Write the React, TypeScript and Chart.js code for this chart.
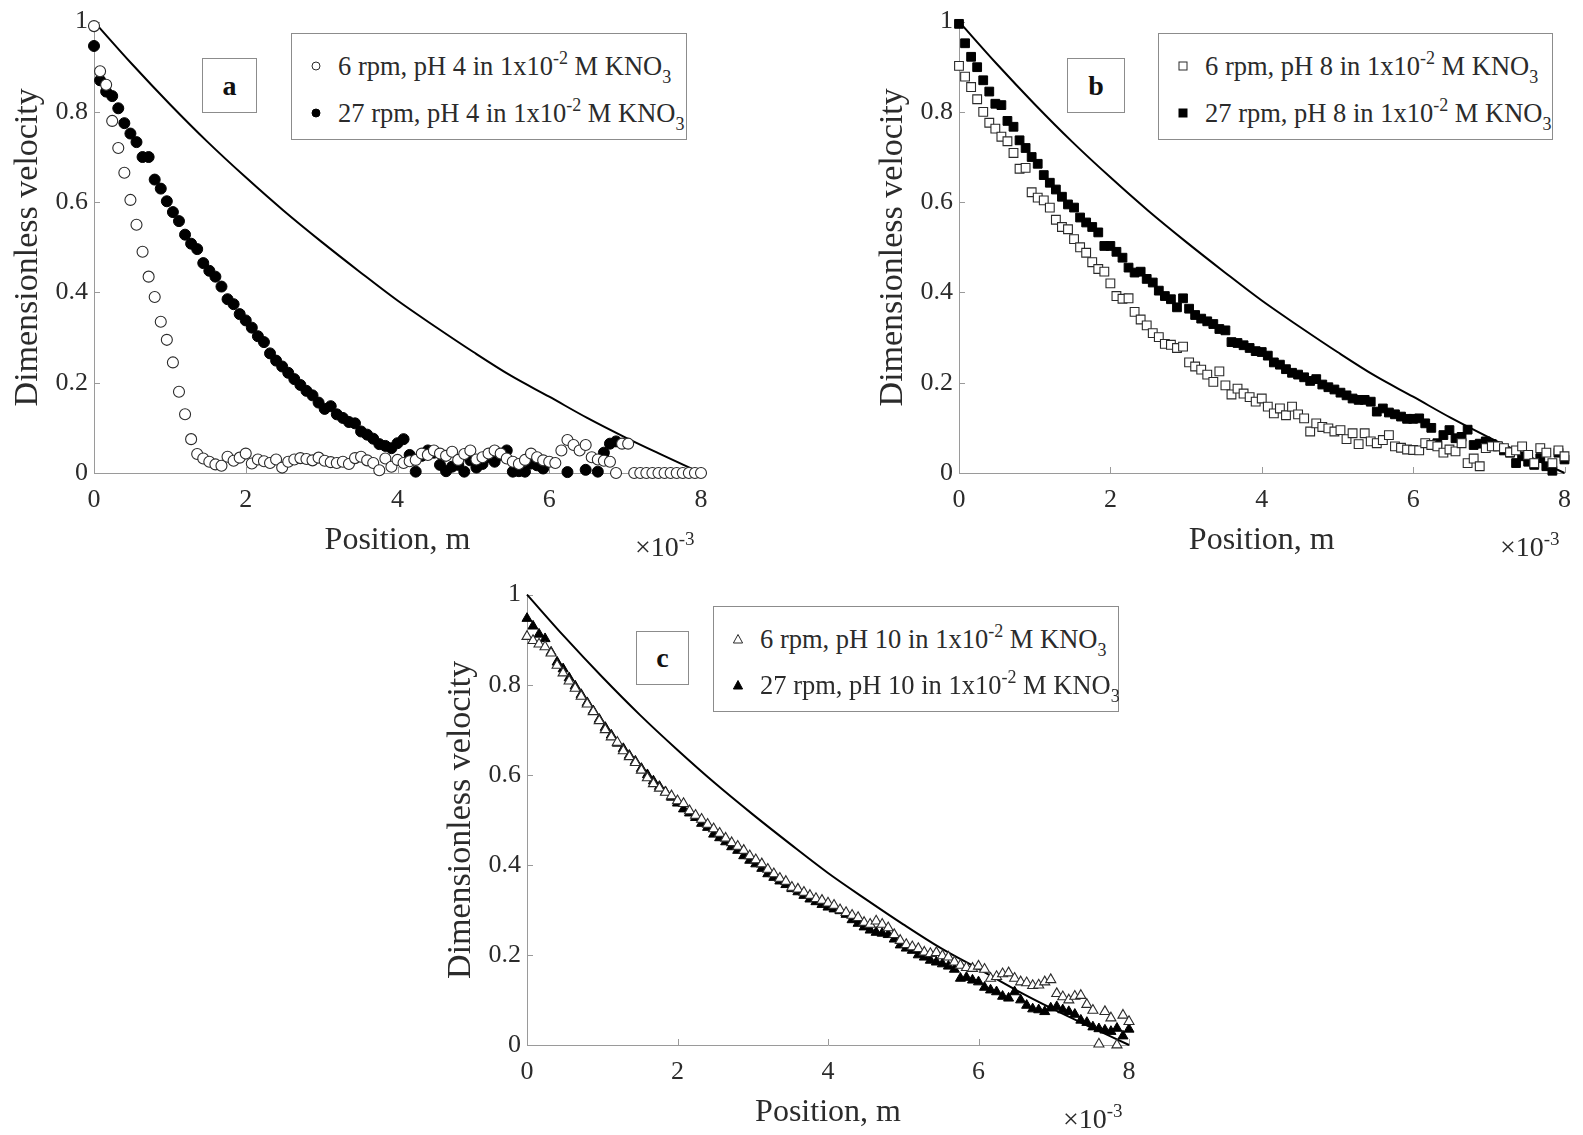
import React, { useEffect, useRef } from 'react';
import { Chart, registerables } from 'chart.js';

Chart.register(...registerables);

const FONT = "'Liberation Serif', 'Times New Roman', serif";
const TEXT = '#2b2b2b';
const AXIS = '#9a9a9a';

// Sampling positions (x 1e-3 m)
const POSITIONS = [0,0.08,0.16,0.24,0.32,0.4,0.48,0.56,0.64,0.72,0.8,0.88,0.96,1.04,1.12,1.2,1.28,1.36,1.44,1.52,1.6,1.68,1.76,1.84,1.92,2,2.08,2.16,2.24,2.32,2.4,2.48,2.56,2.64,2.72,2.8,2.88,2.96,3.04,3.12,3.2,3.28,3.36,3.44,3.52,3.6,3.68,3.76,3.84,3.92,4,4.08,4.16,4.24,4.32,4.4,4.48,4.56,4.64,4.72,4.8,4.88,4.96,5.04,5.12,5.2,5.28,5.36,5.44,5.52,5.6,5.68,5.76,5.84,5.92,6,6.08,6.16,6.24,6.32,6.4,6.48,6.56,6.64,6.72,6.8,6.88,6.96,7.04,7.12,7.2,7.28,7.36,7.44,7.52,7.6,7.68,7.76,7.84,7.92,8];

// Model curve
const THEORY_X = [0,0.5,1,1.5,2,2.5,3,3.5,4,4.5,5,5.5,6,6.5,7,7.5,8];
const THEORY_Y = [1,0.906,0.817,0.733,0.655,0.581,0.512,0.446,0.382,0.324,0.268,0.215,0.169,0.122,0.079,0.039,0];

// Panel a: pH 4
const A_6RPM = [
0.99,0.89,0.86,0.78,0.72,0.665,0.605,0.55,0.49,0.435,
0.39,0.335,0.295,0.245,0.18,0.13,0.075,0.042,0.032,0.025,
0.019,0.016,0.036,0.027,0.034,0.043,0.021,0.03,0.026,0.022,
0.03,0.012,0.025,0.03,0.033,0.031,0.028,0.034,0.027,0.024,
0.022,0.025,0.02,0.033,0.036,0.028,0.022,0.006,0.032,0.014,
0.029,0.022,0.026,0.029,0.043,0.04,0.05,0.043,0.038,0.047,
0.029,0.042,0.05,0.03,0.035,0.043,0.05,0.043,0.032,0.025,
0.02,0.029,0.043,0.035,0.028,0.025,0.022,0.05,0.073,0.062,
0.05,0.062,0.035,0.03,0.027,0.025,0,0.065,0.065,0,
0,0,0,0,0,0,0,0,0,0,0];
const A_27RPM = [
0.946,0.87,0.845,0.835,0.808,0.775,0.752,0.733,0.70,0.70,
0.65,0.63,0.602,0.578,0.558,0.528,0.508,0.496,0.465,0.448,
0.435,0.413,0.385,0.374,0.352,0.338,0.322,0.303,0.29,0.265,
0.249,0.236,0.222,0.208,0.195,0.182,0.172,0.156,0.142,0.148,
0.13,0.122,0.113,0.11,0.092,0.085,0.076,0.064,0.06,0.055,
0.066,0.075,0.04,0.003,0.038,0.05,0.045,0.018,0.004,0.014,
0.018,0.003,0.028,0.012,0.02,0.035,0.025,0.04,0.05,0.003,
0.004,0.003,0.021,0.017,0.01,null,null,null,0.002,null,
null,0.007,null,0.003,0.045,0.065,0.07,null,null,null,
null,null,null,null,null,null,null,null,null,null,null];

// Panel b: pH 8
const B_6RPM = [
0.902,0.878,0.855,0.828,0.80,0.776,0.763,0.745,0.735,0.709,
0.674,0.676,0.622,0.61,0.604,0.588,0.561,0.545,0.54,0.518,
0.50,0.488,0.467,0.452,0.446,0.42,0.392,0.386,0.387,0.357,
0.34,0.327,0.31,0.301,0.286,0.284,0.277,0.28,0.245,0.236,
0.229,0.218,0.202,0.225,0.194,0.174,0.187,0.176,0.168,0.158,
0.165,0.147,0.132,0.143,0.128,0.147,0.13,0.121,0.092,0.11,
0.102,0.099,0.092,0.095,0.075,0.088,0.064,0.088,0.07,0.066,
0.073,0.084,0.059,0.056,0.052,0.051,0.05,0.066,0.062,0.059,
0.045,0.052,0.048,0.066,0.022,0.032,0.015,0.055,0.059,0.059,
0.055,0.046,0.05,0.059,0.04,0.022,0.055,0.045,0.022,0.05,0.037];
const B_27RPM = [
0.995,0.952,0.922,0.899,0.87,0.845,0.818,0.815,0.78,0.767,
0.737,0.72,0.70,0.685,0.66,0.643,0.628,0.612,0.595,0.588,
0.566,0.555,0.545,0.533,0.503,0.503,0.49,0.477,0.455,0.444,
0.446,0.43,0.422,0.404,0.392,0.385,0.367,0.387,0.364,0.35,
0.342,0.336,0.33,0.319,0.316,0.29,0.288,0.283,0.277,0.27,
0.268,0.26,0.245,0.24,0.23,0.222,0.218,0.212,0.204,0.208,
0.196,0.19,0.185,0.178,0.172,0.165,0.162,0.162,0.158,0.136,
0.143,0.134,0.13,0.125,0.12,0.12,0.121,0.11,0.10,0.066,
0.084,0.095,0.077,0.08,0.096,0.062,0.065,0.07,0.064,0.059,
0.05,0.045,0.022,0.037,0.025,0.018,0.033,0.015,0.005,0.045,0.03];

// Panel c: pH 10
const C_6RPM = [
0.907,0.898,0.89,0.884,0.87,0.843,0.826,0.808,0.792,0.774,
0.757,0.74,0.72,0.70,0.684,0.672,0.653,0.64,0.627,0.61,
0.593,0.58,0.57,0.561,0.553,0.542,0.536,0.52,0.51,0.501,
0.49,0.48,0.47,0.459,0.449,0.441,0.432,0.42,0.411,0.402,
0.39,0.38,0.37,0.363,0.35,0.346,0.339,0.332,0.325,0.321,
0.315,0.31,0.30,0.294,0.288,0.283,0.272,0.268,0.275,0.268,
0.26,0.245,0.232,0.223,0.218,0.214,0.206,0.203,0.205,0.198,
0.195,0.184,0.177,0.172,0.17,0.175,0.168,0.148,0.152,0.158,
0.16,0.148,0.14,0.138,0.132,0.133,0.14,0.145,0.114,0.107,
0.10,0.108,0.11,0.09,0.077,0.002,0.074,0.06,0,0.066,0.052];
const C_27RPM = [
0.947,0.93,0.912,0.902,0.872,0.85,0.835,0.815,0.797,0.778,
0.76,0.742,0.723,0.705,0.688,0.67,0.658,0.643,0.63,0.614,
0.60,0.586,0.574,0.562,0.55,0.537,0.524,0.515,0.505,0.492,
0.483,0.468,0.46,0.451,0.44,0.432,0.42,0.41,0.402,0.392,
0.38,0.372,0.364,0.356,0.347,0.34,0.332,0.324,0.318,0.312,
0.306,0.302,0.298,0.29,0.278,0.27,0.262,0.255,0.25,0.248,
0.245,0.235,0.222,0.215,0.21,0.20,0.195,0.188,0.184,0.18,
0.175,0.168,0.148,0.15,0.144,0.14,0.128,0.122,0.118,0.108,
0.104,0.118,0.10,0.088,0.08,0.078,0.074,0.082,0.085,0.078,
0.074,0.068,0.055,0.05,0.04,0.036,0.033,0.03,0.037,0.02,0.035];

const LEGEND_A = ['6 rpm, pH 4', '27 rpm, pH 4'];
const LEGEND_B = ['6 rpm, pH 8', '27 rpm, pH 8'];
const LEGEND_C = ['6 rpm, pH 10', '27 rpm, pH 10'];

const innerTicks = {
  id: 'innerTicks',
  beforeDatasetsDraw(chart: any) {
    const { ctx, chartArea, scales } = chart;
    const x = scales.x;
    const y = scales.y;
    ctx.save();
    ctx.strokeStyle = AXIS;
    ctx.lineWidth = 1;
    x.ticks.forEach((t: any) => {
      const px = Math.round(x.getPixelForValue(t.value)) + 0.5;
      ctx.beginPath();
      ctx.moveTo(px, chartArea.bottom);
      ctx.lineTo(px, chartArea.bottom - 6);
      ctx.stroke();
    });
    y.ticks.forEach((t: any) => {
      const py = Math.round(y.getPixelForValue(t.value)) + 0.5;
      ctx.beginPath();
      ctx.moveTo(chartArea.left, py);
      ctx.lineTo(chartArea.left + 6, py);
      ctx.stroke();
    });
    ctx.restore();
  },
};

type PanelProps = {
  left: number;
  top: number;
  width: number;
  height: number;
  padRight: number;
  marker: string;
  radius: number;
  open: (number | null)[];
  filled: (number | null)[];
};

function ChartPanel(p: PanelProps) {
  const ref = useRef<HTMLCanvasElement>(null);
  useEffect(() => {
    const toPts = (arr: (number | null)[]) =>
      POSITIONS.map((x, i) => ({ x, y: arr[i] })).filter((d) => d.y !== null && d.y !== undefined);
    const chart = new Chart(ref.current as HTMLCanvasElement, {
      type: 'scatter',
      data: {
        datasets: [
          {
            label: 'open',
            data: toPts(p.open) as any,
            pointStyle: p.marker as any,
            pointRadius: p.radius,
            backgroundColor: '#ffffff',
            borderColor: '#2a2a2a',
            borderWidth: 1.1,
            clip: false as any,
            order: 0,
          },
          {
            label: 'filled',
            data: toPts(p.filled) as any,
            pointStyle: p.marker as any,
            pointRadius: p.radius,
            backgroundColor: '#000000',
            borderColor: '#000000',
            borderWidth: 1,
            clip: false as any,
            order: 1,
          },
          {
            type: 'line' as any,
            label: 'model',
            data: THEORY_X.map((x, i) => ({ x, y: THEORY_Y[i] })) as any,
            borderColor: '#000000',
            borderWidth: 2,
            pointRadius: 0,
            showLine: true,
            cubicInterpolationMode: 'monotone',
            fill: false,
            clip: false as any,
            order: 2,
          } as any,
        ],
      },
      options: {
        animation: false,
        responsive: false,
        maintainAspectRatio: false,
        devicePixelRatio: 1,
        events: [],
        layout: { padding: { top: 20, right: p.padRight, left: 0, bottom: 0 } },
        plugins: { legend: { display: false }, tooltip: { enabled: false } },
        scales: {
          x: {
            type: 'linear',
            min: 0,
            max: 8,
            afterFit: (s: any) => {
              s.height = 87;
            },
            ticks: {
              stepSize: 2,
              font: { family: FONT, size: 26 },
              color: TEXT,
              padding: 12,
              maxRotation: 0,
              callback: (v: any) => String(Number(Number(v).toFixed(1))),
            },
            grid: { display: false, drawTicks: false },
            border: { display: true, color: AXIS, width: 1 },
            title: {
              display: true,
              text: 'Position, m',
              font: { family: FONT, size: 32 },
              color: TEXT,
              padding: { top: 0, bottom: 0 },
            },
          },
          y: {
            type: 'linear',
            min: 0,
            max: 1,
            afterFit: (s: any) => {
              s.width = 94;
            },
            ticks: {
              stepSize: 0.2,
              font: { family: FONT, size: 26 },
              color: TEXT,
              padding: 6,
              callback: (v: any) => String(Number(Number(v).toFixed(1))),
            },
            grid: { display: false, drawTicks: false },
            border: { display: true, color: AXIS, width: 1 },
            title: {
              display: true,
              text: 'Dimensionless velocity',
              font: { family: FONT, size: 34 },
              color: TEXT,
              padding: { top: 8, bottom: 0 },
            },
          },
        },
      } as any,
      plugins: [innerTicks],
    });
    return () => chart.destroy();
  }, []);
  return (
    <canvas
      ref={ref}
      width={p.width}
      height={p.height}
      style={{ position: 'absolute', left: p.left, top: p.top, width: p.width, height: p.height, display: 'block' }}
    />
  );
}

function Marker({ shape, filled }: { shape: string; filled: boolean }) {
  const fill = filled ? '#000' : '#fff';
  const stroke = filled ? '#000' : '#2a2a2a';
  let el: any;
  if (shape === 'circle') el = <circle cx={6} cy={6} r={4} fill={fill} stroke={stroke} strokeWidth={1} />;
  else if (shape === 'rect') el = <rect x={2} y={2} width={8} height={8} fill={fill} stroke={stroke} strokeWidth={1} />;
  else el = <polygon points="6,1.5 10.6,10 1.4,10" fill={fill} stroke={stroke} strokeWidth={1} />;
  return (
    <svg width={12} height={12} style={{ position: 'absolute', left: 18, top: -6 }}>
      {el}
    </svg>
  );
}

function Legend({ left, top, width, height, labels, shape, rows }: any) {
  return (
    <div
      style={{
        position: 'absolute',
        left,
        top,
        width,
        height,
        boxSizing: 'border-box',
        border: '1px solid #8c8c8c',
        background: '#fff',
        fontFamily: FONT,
        color: TEXT,
      }}
    >
      {labels.map((lab: string, i: number) => (
        <div key={i} style={{ position: 'absolute', left: 0, top: rows[i], width: '100%', height: 0 }}>
          <Marker shape={shape} filled={i === 1} />
          <div
            style={{
              position: 'absolute',
              left: 46,
              top: -16,
              fontSize: 26.5,
              lineHeight: '32px',
              whiteSpace: 'nowrap',
            }}
          >
            {lab} in 1x10
            <span style={{ fontSize: 18, position: 'relative', top: -11 }}>-2</span> M KNO
            <span style={{ fontSize: 18, position: 'relative', top: 8 }}>3</span>
          </div>
        </div>
      ))}
    </div>
  );
}

function LetterBox({ left, top, width, height, letter }: any) {
  return (
    <div
      style={{
        position: 'absolute',
        left,
        top,
        width,
        height,
        boxSizing: 'border-box',
        border: '1px solid #8c8c8c',
        background: '#fff',
        display: 'flex',
        alignItems: 'center',
        justifyContent: 'center',
        fontFamily: FONT,
        fontWeight: 'bold',
        fontSize: 28,
        color: '#111',
      }}
    >
      {letter}
    </div>
  );
}

function Exponent({ left, top }: any) {
  return (
    <div
      style={{
        position: 'absolute',
        left,
        top,
        fontFamily: FONT,
        fontSize: 28,
        lineHeight: '32px',
        color: TEXT,
        whiteSpace: 'nowrap',
      }}
    >
      ×10<span style={{ fontSize: 19, position: 'relative', top: -11 }}>-3</span>
    </div>
  );
}

export default function App() {
  return (
    <div
      style={{
        position: 'absolute',
        left: 0,
        top: 0,
        width: 1583,
        height: 1135,
        background: '#fff',
        overflow: 'hidden',
      }}
    >
      <ChartPanel left={0} top={0} width={720} height={560} padRight={19} marker="circle" radius={5.5} open={A_6RPM} filled={A_27RPM} />
      <ChartPanel left={865} top={0} width={718} height={560} padRight={17} marker="rect" radius={6.2} open={B_6RPM} filled={B_27RPM} />
      <ChartPanel left={433} top={573} width={715} height={559} padRight={19} marker="triangle" radius={5.8} open={C_6RPM} filled={C_27RPM} />

      <Legend left={291} top={33} width={396} height={107} labels={LEGEND_A} shape="circle" rows={[32, 79]} />
      <Legend left={1158} top={33} width={395} height={107} labels={LEGEND_B} shape="rect" rows={[32, 79]} />
      <Legend left={713} top={606} width={406} height={106} labels={LEGEND_C} shape="triangle" rows={[32, 78]} />

      <LetterBox left={202} top={58} width={55} height={55} letter="a" />
      <LetterBox left={1067} top={58} width={58} height={55} letter="b" />
      <LetterBox left={636} top={631} width={53} height={54} letter="c" />

      <Exponent left={635} top={531} />
      <Exponent left={1500} top={531} />
      <Exponent left={1063} top={1103} />
    </div>
  );
}
